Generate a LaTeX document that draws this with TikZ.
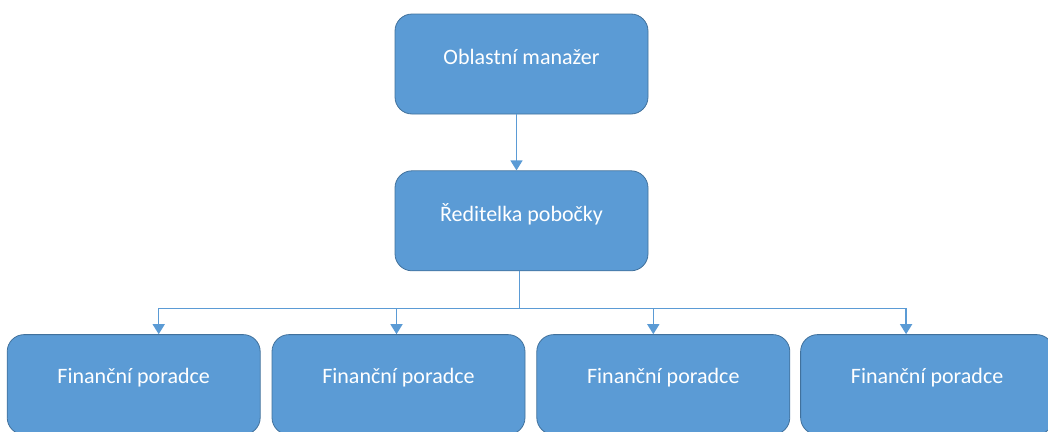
\documentclass[tikz,border=0pt]{standalone}
\usepackage{fontspec}
\setmainfont{Carlito}
\usetikzlibrary{positioning,arrows.meta}
\definecolor{boxblue}{HTML}{5B9BD5}
\definecolor{boxedge}{HTML}{41719C}

\begin{document}
\begin{tikzpicture}[x=1pt,y=-1pt]
 	\tikzstyle{main}=[rectangle, rounded corners=17pt, minimum width=253pt, minimum height=100pt, fill=boxblue, draw=boxedge, line width=0.8pt, node distance=56pt]
 	\tikzstyle{txt}=[text=white, font=\fontsize{22}{26}\selectfont, yshift=7pt]
 	\tikzstyle{connect}=[-{Triangle[width=12pt,length=10pt]}, draw=boxblue, line width=1.4pt]
 	\useasboundingbox (0,0) rectangle (1048,431);
 	\node[main] (manager) at (521.5,64) [label={[txt]center:Oblastní manažer}] { };
 	\node[main] (branch) [below=of manager, label={[txt]center:Ředitelka pobočky}] { };
 		\node[main] (fa2) [below=63pt of branch, xshift=-123pt, label={[txt]center:Finanční poradce}] { };
 		\node[main] (fa1) [left=11pt of fa2, label={[txt]center:Finanční poradce}] { };
 		\node[main] (fa3) [right=11pt of fa2, label={[txt]center:Finanční poradce}] { };
 		\node[main] (fa4) [right=10pt of fa3, label={[txt]center:Finanční poradce}] { };
 	\coordinate (bus) at ([yshift=-37pt]branch.south);
 	\draw[connect] ([xshift=-5pt]manager.south) -- ([xshift=-5pt]branch.north);
 	\draw[boxblue, line width=1.4pt] ([xshift=-2pt]branch.south) -- ([xshift=-2pt]bus);
 	\draw[connect] (bus) -| ([xshift=25pt]fa1.north);
 	\draw[connect] (bus) -| ([xshift=-2pt]fa2.north);
 	\draw[connect] (bus) -| ([xshift=-10pt]fa3.north);
 	\draw[connect] (bus) -| ([xshift=-21pt]fa4.north);
\end{tikzpicture}
\end{document}
